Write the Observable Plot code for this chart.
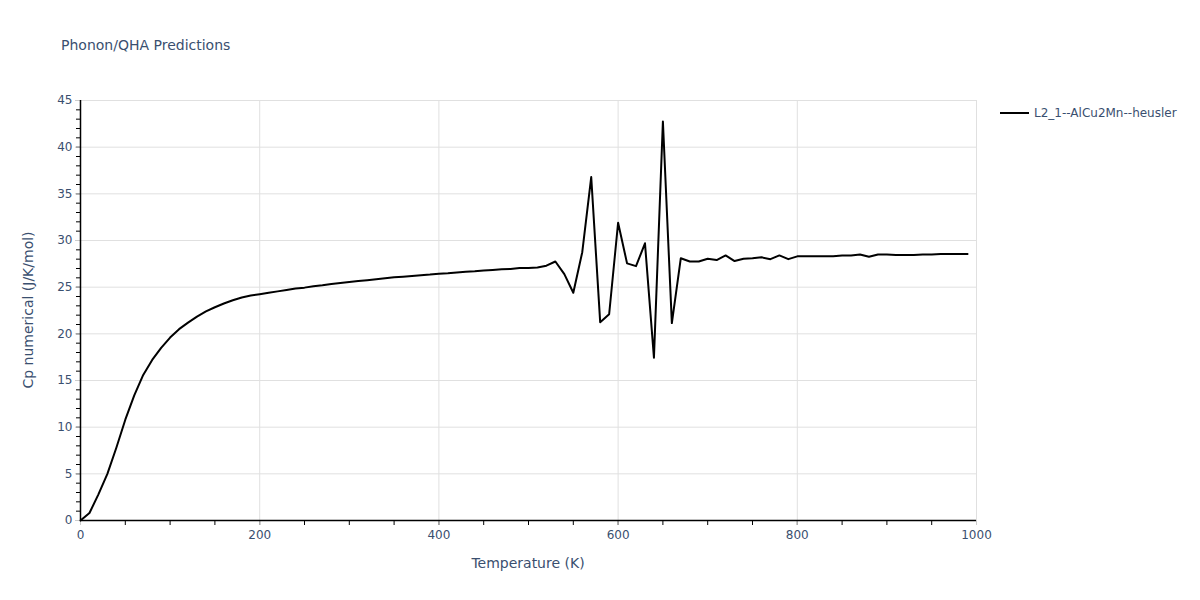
<!DOCTYPE html>
<html>
<head>
<meta charset="utf-8">
<script src="https://cdn.jsdelivr.net/npm/d3@7"></script>
<script src="https://cdn.jsdelivr.net/npm/@observablehq/plot@0.6"></script>
<style>
  html, body { margin: 0; padding: 0; background: #fff; }
  #wrap { position: relative; width: 1200px; height: 600px; font-family: "DejaVu Sans", Verdana, sans-serif; color: #3a4f6f; }
  .title { position: absolute; left: 61px; top: 37px; font-size: 14px; white-space: nowrap; }
  .xlab { position: absolute; left: 528px; top: 555px; transform: translateX(-50%); font-size: 14px; white-space: nowrap; }
  .ylab { position: absolute; left: 28px; top: 310px; transform: translate(-50%, -50%) rotate(-90deg); font-size: 14px; white-space: nowrap; }
  .legend { position: absolute; left: 1000px; top: 106px; font-size: 12px; white-space: nowrap; display: flex; align-items: center; }
  .legend .sw { width: 29px; height: 0; border-top: 2px solid #000; margin-right: 5px; }
</style>
</head>
<body>
<div id="wrap">
  <div id="chart"></div>
  <div class="title">Phonon/QHA Predictions</div>
  <div class="xlab">Temperature (K)</div>
  <div class="ylab">Cp numerical (J/K/mol)</div>
  <div class="legend"><span class="sw"></span><span id="sername"></span></div>
</div>
<script>
const seriesName = "L2_1--AlCu2Mn--heusler";
const temperature = [
  0, 10, 20, 30, 40, 50, 60, 70, 80, 90,
  100, 110, 120, 130, 140, 150, 160, 170, 180, 190,
  200, 210, 220, 230, 240, 250, 260, 270, 280, 290,
  300, 310, 320, 330, 340, 350, 360, 370, 380, 390,
  400, 410, 420, 430, 440, 450, 460, 470, 480, 490,
  500, 510, 520, 530, 540, 550, 560, 570, 580, 590,
  600, 610, 620, 630, 640, 650, 660, 670, 680, 690,
  700, 710, 720, 730, 740, 750, 760, 770, 780, 790,
  800, 810, 820, 830, 840, 850, 860, 870, 880, 890,
  900, 910, 920, 930, 940, 950, 960, 970, 980, 990
];
const cp = [
  0.0, 0.8, 2.8, 5.0, 7.8, 10.8, 13.4, 15.6, 17.2, 18.5,
  19.6, 20.5, 21.2, 21.85, 22.4, 22.85, 23.25, 23.6, 23.9, 24.1,
  24.25, 24.4, 24.55, 24.7, 24.85, 24.95, 25.1, 25.2, 25.35, 25.45,
  25.55, 25.65, 25.75, 25.85, 25.95, 26.05, 26.12, 26.2, 26.28, 26.35,
  26.45, 26.5, 26.58, 26.65, 26.7, 26.78, 26.85, 26.92, 26.95, 27.05,
  27.05, 27.1, 27.3, 27.75, 26.4, 24.4, 28.75, 36.8, 21.25, 22.1,
  31.9, 27.55, 27.25, 29.7, 17.45, 42.75, 21.15, 28.1, 27.75, 27.75,
  28.05, 27.9, 28.4, 27.8, 28.05, 28.1, 28.2, 28.0, 28.4, 28.0,
  28.3, 28.3, 28.3, 28.3, 28.3, 28.4, 28.4, 28.5, 28.25, 28.5,
  28.5, 28.45, 28.45, 28.45, 28.5, 28.5, 28.55, 28.55, 28.55, 28.55
];
const xMajorTicks = [0, 200, 400, 600, 800, 1000];
const xMinorTicks = d3.range(0, 1001, 50);
const yMajorTicks = [0, 5, 10, 15, 20, 25, 30, 35, 40, 45];
const yMinorTicks = d3.range(0, 46, 1);

document.getElementById("sername").textContent = seriesName;

const data = temperature.map((t, i) => ({t, cp: cp[i]}));
const textColor = "#3a4f6f";

const chart = Plot.plot({
  width: 1200,
  height: 600,
  marginLeft: 80,
  marginRight: 224,
  marginTop: 100,
  marginBottom: 80,
  style: {fontFamily: "'DejaVu Sans', Verdana, sans-serif", fontSize: "12px", color: textColor, background: "#fff"},
  x: {domain: [0, 1000], label: null},
  y: {domain: [0, 45], label: null},
  marks: [
    Plot.gridX(xMajorTicks, {stroke: "#e0e0e0", strokeOpacity: 1, strokeWidth: 1}),
    Plot.gridY(yMajorTicks, {stroke: "#e0e0e0", strokeOpacity: 1, strokeWidth: 1}),
    Plot.axisX(xMinorTicks, {tickSize: 5, stroke: "#000", strokeOpacity: 1, tickFormat: () => "", label: null}),
    Plot.axisY(yMinorTicks, {tickSize: 4, stroke: "#000", strokeOpacity: 1, tickFormat: () => "", label: null}),
    Plot.axisX(xMajorTicks, {tickSize: 5, stroke: "#ccc", strokeOpacity: 1, tickPadding: 5, fill: textColor, fontSize: 12, tickFormat: d3.format("d"), label: null}),
    Plot.axisY(yMajorTicks, {tickSize: 5, stroke: "#ccc", strokeOpacity: 1, tickPadding: 3, fill: textColor, fontSize: 12, tickFormat: d3.format("d"), label: null}),
    Plot.ruleX([0], {stroke: "#000", strokeWidth: 1.5}),
    Plot.ruleY([0], {stroke: "#000", strokeWidth: 1.5}),
    Plot.line(data, {x: "t", y: "cp", stroke: "#000", strokeWidth: 2})
  ]
});
document.getElementById("chart").appendChild(chart);
</script>
</body>
</html>
